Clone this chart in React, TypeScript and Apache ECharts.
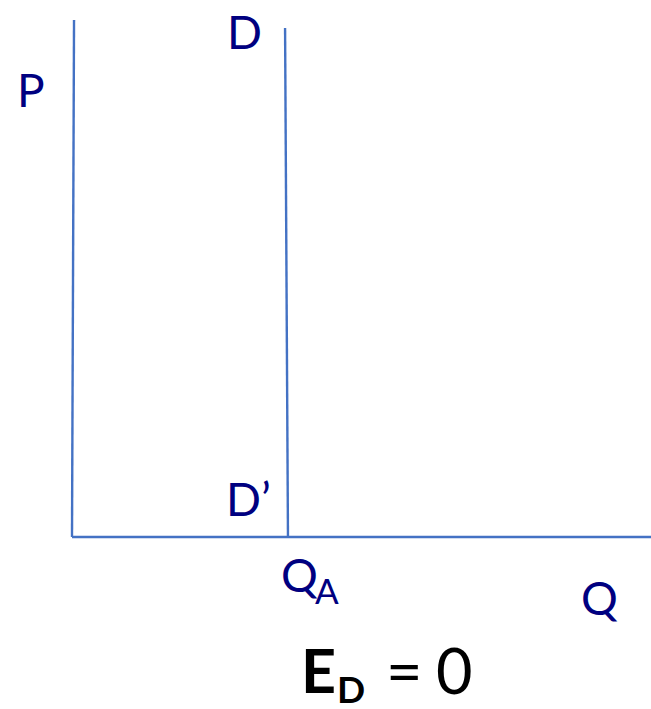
import React, { useEffect, useRef } from "react";
import * as echarts from "echarts";

// Quantity / price coordinates (0–100 scale)
const yAxisLine: number[][] = [[0.35, 100], [0, 0]];
const xAxisLine: number[][] = [[0, 0], [100, 0]];
const demandLine: number[][] = [[36.8, 98.45], [37.3, 0]];

const LINE_COLOR = "#4472C4";
const NAVY = "#000080";
const FONT = "Lato, 'Open Sans', sans-serif";

export default function App() {
  const ref = useRef<HTMLDivElement>(null);
  useEffect(() => {
    if (!ref.current) return;
    const chart = echarts.init(ref.current, undefined, { renderer: "svg" });
    const lineSeries = (name: string, data: number[][]) => ({
      name,
      type: "line",
      data,
      symbol: "none",
      clip: false,
      lineStyle: { color: LINE_COLOR, width: 2.4 },
      silent: true,
    });
    const txt = (text: string, x: number, y: number, size: number, color = NAVY, weight: any = "normal") => ({
      type: "text",
      x,
      y,
      style: {
        text,
        fill: color,
        font: `${weight} ${size}px ${FONT}`,
        align: "left",
        verticalAlign: "middle",
      },
    });
    chart.setOption({
      animation: false,
      backgroundColor: "#ffffff",
      grid: { left: 72, top: 20, right: 0, bottom: 172, containLabel: false },
      xAxis: { type: "value", min: 0, max: 100, show: false },
      yAxis: { type: "value", min: 0, max: 100, show: false },
      series: [
        lineSeries("yAxis", yAxisLine),
        lineSeries("xAxis", xAxisLine),
        lineSeries("Demand", demandLine),
      ],
      graphic: [
        txt("P", 17, 89, 46),
        txt("D", 227, 31, 46),
        txt("D\u2019", 226, 498, 46),
        txt("Q", 281, 574, 46),
        txt("A", 315, 590, 35),
        txt("Q", 581, 597, 46),
        txt("E", 301, 669, 61, "#000000", "bold"),
        txt("D", 337, 688, 37, "#000000", "bold"),
        txt("=", 386, 669, 63, "#000000"),
        txt("0", 436, 669, 63, "#000000"),
      ],
    });
    return () => chart.dispose();
  }, []);
  return (
    <div
      ref={ref}
      style={{ position: "fixed", left: 0, top: 0, width: 651, height: 709 }}
    />
  );
}
